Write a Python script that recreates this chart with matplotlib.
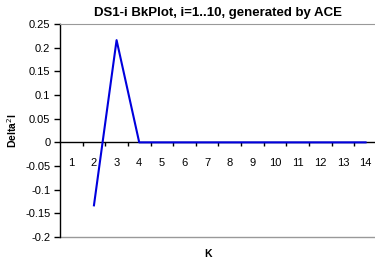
import numpy as np
import matplotlib.pyplot as plt

plt.rcParams['font.family'] = ['Liberation Sans', 'DejaVu Sans']

k = np.arange(1, 15)
delta2 = [np.nan, -0.133, 0.216, 0, 0, 0, 0, 0, 0, 0, 0, 0, 0, 0]
yticks = [-0.2, -0.15, -0.1, -0.05, 0, 0.05, 0.1, 0.15, 0.2, 0.25]

fig = plt.figure(figsize=(3.75, 2.64), dpi=100)
ax = fig.add_axes([0.16, 0.102, 0.845, 0.807])

ax.plot(k, delta2, color='#0000dd', lw=1.5, zorder=3)

ax.set_xlim(0.5, 14.5)
ax.set_ylim(-0.2, 0.25)
ax.set_yticks(yticks)
ax.set_yticklabels(['-0.2', '-0.15', '-0.1', '-0.05', '0', '0.05', '0.1', '0.15', '0.2', '0.25'])
ax.tick_params(axis='y', direction='out', length=4, width=1, labelsize=8, pad=3)

# category axis: ticks at boundaries, labels at centres
ax.spines['bottom'].set_position(('data', 0))
ax.spines['bottom'].set_linewidth(1)
ax.set_xticks(np.arange(1.5, 14.5, 1))
ax.set_xticklabels([])
ax.set_xticks(k, minor=True)
ax.set_xticklabels([str(i) for i in k], minor=True)
ax.tick_params(axis='x', which='major', direction='out', length=3, width=1)
ax.tick_params(axis='x', which='minor', length=0, labelsize=8, pad=11)

ax.spines['right'].set_visible(False)
ax.spines['top'].set_color('#999999')
ax.spines['left'].set_linewidth(1)
ax.plot([0, 1], [0, 0], transform=ax.transAxes, color='#999999', lw=1, clip_on=False)

ax.set_title('DS1-i BkPlot, i=1..10, generated by ACE', fontsize=9.5, fontweight='bold', pad=6)
ax.set_ylabel('Delta$^2$I', fontsize=7.5, fontweight='bold')
ax.yaxis.set_label_coords(-0.13, 0.5)
fig.text(0.555, 0.025, 'K', fontsize=7.5, fontweight='bold', ha='center')

fig.savefig('out.png', dpi=100)
